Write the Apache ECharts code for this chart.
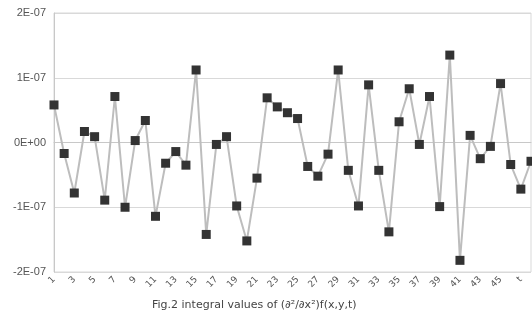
<!DOCTYPE html>
<html>
<head>
<meta charset="utf-8">
<script src="https://cdn.jsdelivr.net/npm/echarts@6/dist/echarts.min.js"></script>
<style>html,body{margin:0;padding:0;background:#fff;}#c{width:532px;height:325px;}</style>
</head>
<body>
<div id="c"></div>
<script>
var categories = ['1','2','3','4','5','6','7','8','9','10','11','12','13','14','15','16','17','18','19','20',
  '21','22','23','24','25','26','27','28','29','30','31','32','33','34','35','36','37','38','39','40',
  '41','42','43','44','45','46','t','48'];
var values = [5.8e-8,-1.7e-8,-7.8e-8,1.7e-8,0.9e-8,-8.9e-8,7.1e-8,-10.0e-8,0.3e-8,3.4e-8,
  -11.4e-8,-3.2e-8,-1.4e-8,-3.5e-8,11.2e-8,-14.2e-8,-0.3e-8,0.9e-8,-9.8e-8,-15.2e-8,
  -5.5e-8,6.9e-8,5.5e-8,4.6e-8,3.7e-8,-3.7e-8,-5.2e-8,-1.8e-8,11.2e-8,-4.3e-8,
  -9.8e-8,8.9e-8,-4.3e-8,-13.8e-8,3.2e-8,8.3e-8,-0.3e-8,7.1e-8,-9.9e-8,13.5e-8,
  -18.2e-8,1.1e-8,-2.5e-8,-0.6e-8,9.1e-8,-3.4e-8,-7.2e-8,-2.9e-8];
var yTicks = [-2e-7,-1e-7,0,1e-7,2e-7];
var titleText = 'Fig.2 integral values of (\u2202\u00b2/\u2202x\u00b2)f(x,y,t)';

function fmt(v){
  var s = Number(v.toPrecision(6)).toExponential(0);
  var m = s.split('e');
  var e = parseInt(m[1],10);
  var es = (e<0?'-':'+') + (Math.abs(e)<10?'0':'') + Math.abs(e);
  return m[0] + 'E' + es;
}
var chart = echarts.init(document.getElementById('c'));
chart.setOption({
  animation:false,
  backgroundColor:'#fff',
  title:{text:titleText,left:147,top:295,textStyle:{fontFamily:'DejaVu Sans',fontSize:11,fontWeight:'normal',color:'#444'}},
  grid:{left:54,right:1,top:13,bottom:53,show:true,borderColor:'#d9d9d9',borderWidth:1},
  xAxis:{type:'category',data:categories,boundaryGap:false,
    axisLine:{show:true,lineStyle:{color:'#c8c8c8'}},axisTick:{show:false},
    axisLabel:{interval:1,rotate:45,fontSize:9,color:'#555',fontFamily:'DejaVu Sans',margin:6}},
  yAxis:{type:'value',min:yTicks[0],max:yTicks[yTicks.length-1],interval:1e-7,
    axisLine:{show:true,lineStyle:{color:'#c8c8c8'}},axisTick:{show:false},
    splitLine:{lineStyle:{color:'#d9d9d9'}},
    axisLabel:{formatter:fmt,fontSize:11,color:'#555',fontFamily:'Liberation Sans',margin:8}},
  series:[{type:'line',data:values,symbol:'rect',symbolSize:9,showAllSymbol:true,
    lineStyle:{color:'#bdbdbd',width:2},itemStyle:{color:'#333'}}]
});
</script>
</body>
</html>
